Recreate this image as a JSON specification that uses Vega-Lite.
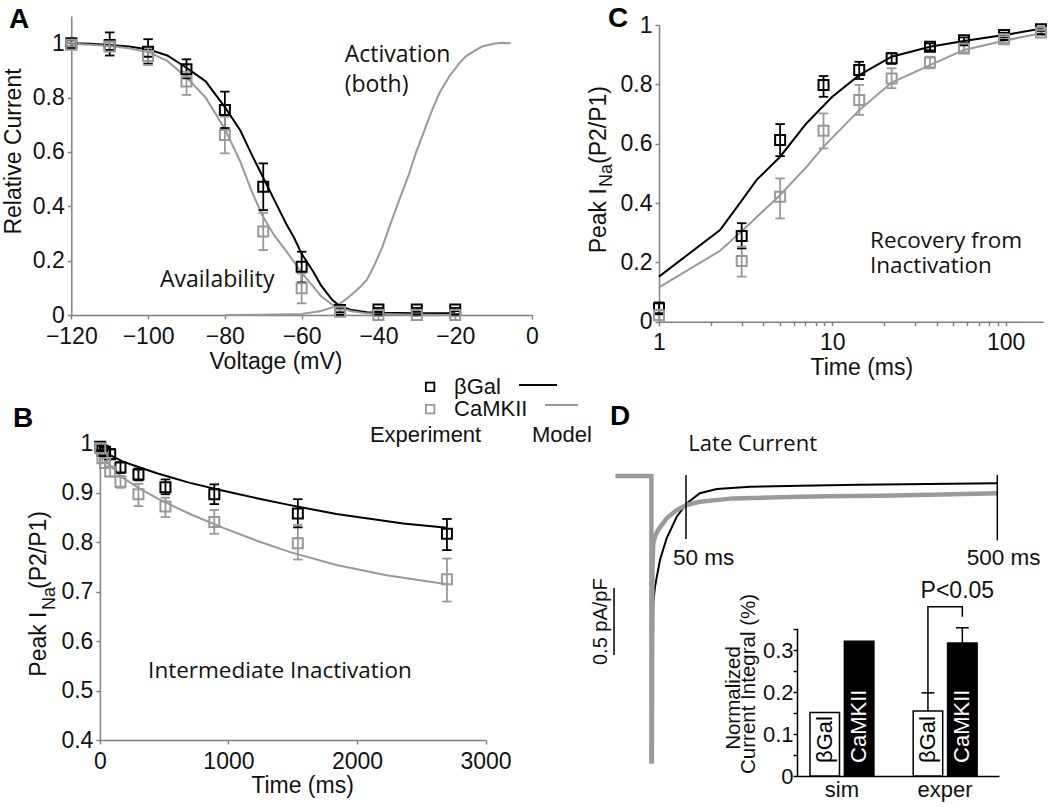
{
  "$schema": "https://vega.github.io/schema/vega-lite/v6.json",
  "width": 1050,
  "height": 807,
  "autosize": {"type": "none"},
  "padding": 0,
  "background": "#ffffff",
  "config": {
    "view": {"stroke": null},
    "font": "Liberation Sans",
    "axis": {"grid": false, "domainColor": "#808080", "domainWidth": 1.5, "tickColor": "#808080", "tickWidth": 1.5, "tickSize": 4, "labelFont": "Liberation Sans", "labelFontSize": 23, "labelColor": "#111111", "labelPadding": 4, "labelFlush": false, "labelOverlap": false, "labelBound": false, "titleFont": "Liberation Sans", "titleFontSize": 23, "titleFontWeight": "normal", "titleColor": "#111111"}
  },
  "datasets": {
    "A_fit": [
      {"V": -120, "v": 1.0, "s": "βGal", "c": "b"}, {"V": -115, "v": 0.998, "s": "βGal", "c": "b"}, {"V": -110, "v": 0.994, "s": "βGal", "c": "b"}, {"V": -105, "v": 0.988, "s": "βGal", "c": "b"}, {"V": -100, "v": 0.978, "s": "βGal", "c": "b"}, {"V": -95, "v": 0.955, "s": "βGal", "c": "b"}, {"V": -90, "v": 0.91, "s": "βGal", "c": "b"}, {"V": -85, "v": 0.86, "s": "βGal", "c": "b"}, {"V": -80, "v": 0.765, "s": "βGal", "c": "b"}, {"V": -76, "v": 0.68, "s": "βGal", "c": "b"}, {"V": -73, "v": 0.59, "s": "βGal", "c": "b"}, {"V": -70, "v": 0.505, "s": "βGal", "c": "b"}, {"V": -67, "v": 0.42, "s": "βGal", "c": "b"}, {"V": -64, "v": 0.335, "s": "βGal", "c": "b"}, {"V": -62, "v": 0.285, "s": "βGal", "c": "b"}, {"V": -60, "v": 0.225, "s": "βGal", "c": "b"}, {"V": -57, "v": 0.16, "s": "βGal", "c": "b"}, {"V": -55, "v": 0.11, "s": "βGal", "c": "b"}, {"V": -52, "v": 0.055, "s": "βGal", "c": "b"}, {"V": -50, "v": 0.033, "s": "βGal", "c": "b"}, {"V": -47, "v": 0.018, "s": "βGal", "c": "b"}, {"V": -43, "v": 0.01, "s": "βGal", "c": "b"}, {"V": -40, "v": 0.008, "s": "βGal", "c": "b"}, {"V": -30, "v": 0.006, "s": "βGal", "c": "b"}, {"V": -20, "v": 0.006, "s": "βGal", "c": "b"},
      {"V": -120, "v": 0.998, "s": "CaMKII", "c": "g"}, {"V": -115, "v": 0.995, "s": "CaMKII", "c": "g"}, {"V": -110, "v": 0.99, "s": "CaMKII", "c": "g"}, {"V": -105, "v": 0.982, "s": "CaMKII", "c": "g"}, {"V": -100, "v": 0.968, "s": "CaMKII", "c": "g"}, {"V": -95, "v": 0.935, "s": "CaMKII", "c": "g"}, {"V": -90, "v": 0.875, "s": "CaMKII", "c": "g"}, {"V": -85, "v": 0.8, "s": "CaMKII", "c": "g"}, {"V": -80, "v": 0.685, "s": "CaMKII", "c": "g"}, {"V": -76, "v": 0.565, "s": "CaMKII", "c": "g"}, {"V": -73, "v": 0.455, "s": "CaMKII", "c": "g"}, {"V": -70, "v": 0.36, "s": "CaMKII", "c": "g"}, {"V": -67, "v": 0.29, "s": "CaMKII", "c": "g"}, {"V": -64, "v": 0.235, "s": "CaMKII", "c": "g"}, {"V": -62, "v": 0.195, "s": "CaMKII", "c": "g"}, {"V": -60, "v": 0.155, "s": "CaMKII", "c": "g"}, {"V": -57, "v": 0.105, "s": "CaMKII", "c": "g"}, {"V": -55, "v": 0.07, "s": "CaMKII", "c": "g"}, {"V": -52, "v": 0.038, "s": "CaMKII", "c": "g"}, {"V": -50, "v": 0.026, "s": "CaMKII", "c": "g"}, {"V": -47, "v": 0.014, "s": "CaMKII", "c": "g"}, {"V": -43, "v": 0.006, "s": "CaMKII", "c": "g"}, {"V": -40, "v": 0.004, "s": "CaMKII", "c": "g"}, {"V": -30, "v": 0.001, "s": "CaMKII", "c": "g"}, {"V": -20, "v": 0.0, "s": "CaMKII", "c": "g"},
      {"V": -80, "v": 0.0, "s": "CaMKII", "c": "act"}, {"V": -70, "v": 0.001, "s": "CaMKII", "c": "act"}, {"V": -60, "v": 0.004, "s": "CaMKII", "c": "act"}, {"V": -55, "v": 0.015, "s": "CaMKII", "c": "act"}, {"V": -52, "v": 0.028, "s": "CaMKII", "c": "act"}, {"V": -50, "v": 0.042, "s": "CaMKII", "c": "act"}, {"V": -47.6, "v": 0.067, "s": "CaMKII", "c": "act"}, {"V": -45, "v": 0.1, "s": "CaMKII", "c": "act"}, {"V": -43, "v": 0.13, "s": "CaMKII", "c": "act"}, {"V": -41, "v": 0.185, "s": "CaMKII", "c": "act"}, {"V": -39, "v": 0.25, "s": "CaMKII", "c": "act"}, {"V": -37, "v": 0.33, "s": "CaMKII", "c": "act"}, {"V": -34.6, "v": 0.423, "s": "CaMKII", "c": "act"}, {"V": -32, "v": 0.52, "s": "CaMKII", "c": "act"}, {"V": -30.3, "v": 0.595, "s": "CaMKII", "c": "act"}, {"V": -28, "v": 0.68, "s": "CaMKII", "c": "act"}, {"V": -26, "v": 0.755, "s": "CaMKII", "c": "act"}, {"V": -24, "v": 0.82, "s": "CaMKII", "c": "act"}, {"V": -21.6, "v": 0.877, "s": "CaMKII", "c": "act"}, {"V": -19, "v": 0.925, "s": "CaMKII", "c": "act"}, {"V": -17.3, "v": 0.951, "s": "CaMKII", "c": "act"}, {"V": -15, "v": 0.972, "s": "CaMKII", "c": "act"}, {"V": -13, "v": 0.988, "s": "CaMKII", "c": "act"}, {"V": -10, "v": 0.998, "s": "CaMKII", "c": "act"}, {"V": -7.8, "v": 1.002, "s": "CaMKII", "c": "act"}, {"V": -5.6, "v": 1.0, "s": "CaMKII", "c": "act"}
    ],
    "A_pts": [
      {"V": -120, "v": 1.0, "lo": 0.988, "hi": 1.012, "s": "βGal"}, {"V": -110, "v": 0.994, "lo": 0.955, "hi": 1.04, "s": "βGal"}, {"V": -100, "v": 0.969, "lo": 0.925, "hi": 1.015, "s": "βGal"}, {"V": -90, "v": 0.904, "lo": 0.871, "hi": 0.941, "s": "βGal"}, {"V": -80, "v": 0.754, "lo": 0.688, "hi": 0.822, "s": "βGal"}, {"V": -70, "v": 0.472, "lo": 0.386, "hi": 0.558, "s": "βGal"}, {"V": -60, "v": 0.178, "lo": 0.12, "hi": 0.233, "s": "βGal"}, {"V": -50, "v": 0.018, "lo": 0.01, "hi": 0.026, "s": "βGal"}, {"V": -40, "v": 0.02, "lo": 0.014, "hi": 0.026, "s": "βGal"}, {"V": -30, "v": 0.02, "lo": 0.014, "hi": 0.026, "s": "βGal"}, {"V": -20, "v": 0.02, "lo": 0.014, "hi": 0.026, "s": "βGal"},
      {"V": -120, "v": 0.995, "lo": 0.987, "hi": 1.003, "s": "CaMKII"}, {"V": -110, "v": 0.988, "lo": 0.972, "hi": 1.004, "s": "CaMKII"}, {"V": -100, "v": 0.953, "lo": 0.92, "hi": 0.982, "s": "CaMKII"}, {"V": -90, "v": 0.859, "lo": 0.81, "hi": 0.895, "s": "CaMKII"}, {"V": -80, "v": 0.662, "lo": 0.595, "hi": 0.73, "s": "CaMKII"}, {"V": -70, "v": 0.307, "lo": 0.239, "hi": 0.376, "s": "CaMKII"}, {"V": -60, "v": 0.098, "lo": 0.043, "hi": 0.153, "s": "CaMKII"}, {"V": -50, "v": 0.012, "lo": 0.004, "hi": 0.02, "s": "CaMKII"}, {"V": -40, "v": 0.0, "lo": -0.004, "hi": 0.004, "s": "CaMKII"}, {"V": -30, "v": 0.0, "lo": -0.004, "hi": 0.004, "s": "CaMKII"}, {"V": -20, "v": 0.0, "lo": -0.004, "hi": 0.004, "s": "CaMKII"}
    ],
    "A_txt": [
      {"V": -48.8, "v": 0.932, "text": "Activation"}, {"V": -48.8, "v": 0.822, "text": "(both)"}, {"V": -96.9, "v": 0.104, "text": "Availability"}
    ],
    "A_lbl": [{"V": -136.2, "v": 1.056, "text": "A"}],
    "B_fit": [
      {"t": 0, "v": 0.998, "s": "βGal"}, {"t": 30, "v": 0.985, "s": "βGal"}, {"t": 80, "v": 0.976, "s": "βGal"}, {"t": 180, "v": 0.963, "s": "βGal"}, {"t": 300, "v": 0.952, "s": "βGal"}, {"t": 450, "v": 0.939, "s": "βGal"}, {"t": 700, "v": 0.92, "s": "βGal"}, {"t": 960, "v": 0.904, "s": "βGal"}, {"t": 1220, "v": 0.889, "s": "βGal"}, {"t": 1480, "v": 0.875, "s": "βGal"}, {"t": 1840, "v": 0.857, "s": "βGal"}, {"t": 2360, "v": 0.838, "s": "βGal"}, {"t": 2700, "v": 0.829, "s": "βGal"},
      {"t": 0, "v": 0.995, "s": "CaMKII"}, {"t": 30, "v": 0.97, "s": "CaMKII"}, {"t": 80, "v": 0.955, "s": "CaMKII"}, {"t": 180, "v": 0.93, "s": "CaMKII"}, {"t": 300, "v": 0.91, "s": "CaMKII"}, {"t": 450, "v": 0.888, "s": "CaMKII"}, {"t": 700, "v": 0.857, "s": "CaMKII"}, {"t": 960, "v": 0.829, "s": "CaMKII"}, {"t": 1220, "v": 0.803, "s": "CaMKII"}, {"t": 1480, "v": 0.78, "s": "CaMKII"}, {"t": 1840, "v": 0.754, "s": "CaMKII"}, {"t": 2230, "v": 0.733, "s": "CaMKII"}, {"t": 2700, "v": 0.715, "s": "CaMKII"}
    ],
    "B_pts": [
      {"t": 3, "v": 0.993, "lo": 0.986, "hi": 1.0, "s": "βGal"}, {"t": 20, "v": 0.985, "lo": 0.975, "hi": 0.995, "s": "βGal"}, {"t": 40, "v": 0.983, "lo": 0.973, "hi": 0.993, "s": "βGal"}, {"t": 80, "v": 0.978, "lo": 0.968, "hi": 0.988, "s": "βGal"}, {"t": 160, "v": 0.951, "lo": 0.94, "hi": 0.962, "s": "βGal"}, {"t": 300, "v": 0.937, "lo": 0.925, "hi": 0.949, "s": "βGal"}, {"t": 510, "v": 0.911, "lo": 0.897, "hi": 0.927, "s": "βGal"}, {"t": 890, "v": 0.897, "lo": 0.877, "hi": 0.917, "s": "βGal"}, {"t": 1540, "v": 0.858, "lo": 0.83, "hi": 0.887, "s": "βGal"}, {"t": 2700, "v": 0.817, "lo": 0.784, "hi": 0.847, "s": "βGal"},
      {"t": 3, "v": 0.99, "lo": 0.98, "hi": 1.0, "s": "CaMKII"}, {"t": 20, "v": 0.97, "lo": 0.96, "hi": 0.98, "s": "CaMKII"}, {"t": 40, "v": 0.96, "lo": 0.95, "hi": 0.97, "s": "CaMKII"}, {"t": 80, "v": 0.943, "lo": 0.933, "hi": 0.953, "s": "CaMKII"}, {"t": 160, "v": 0.922, "lo": 0.91, "hi": 0.934, "s": "CaMKII"}, {"t": 300, "v": 0.897, "lo": 0.873, "hi": 0.918, "s": "CaMKII"}, {"t": 510, "v": 0.872, "lo": 0.851, "hi": 0.89, "s": "CaMKII"}, {"t": 890, "v": 0.841, "lo": 0.817, "hi": 0.865, "s": "CaMKII"}, {"t": 1540, "v": 0.798, "lo": 0.765, "hi": 0.835, "s": "CaMKII"}, {"t": 2700, "v": 0.725, "lo": 0.68, "hi": 0.767, "s": "CaMKII"}
    ],
    "B_txt": [{"t": 375, "v": 0.525, "text": "Intermediate Inactivation"}],
    "B_lbl": [{"t": -676, "v": 1.033, "text": "B"}],
    "B_ytitle": [{"t": -419, "v": 0.528, "text": "Peak I"}, {"t": -419, "v": 0.7054, "text": "(P2/P1)"}],
    "B_ysub": [{"t": -349, "v": 0.663, "text": "Na"}],
    "leg_sq": [{"t": 2569, "v": 1.114, "s": "βGal"}, {"t": 2569, "v": 1.069, "s": "CaMKII"}],
    "leg_ln": [{"t1": 3261, "t2": 3557, "v": 1.118, "s": "βGal"}, {"t1": 3463, "t2": 3720, "v": 1.0775, "s": "CaMKII"}],
    "leg_txt": [{"t": 2755, "v": 1.114, "text": "βGal"}, {"t": 2755, "v": 1.069, "text": "CaMKII"}],
    "leg_hdr": [{"t": 2101, "v": 1.003, "text": "Experiment"}, {"t": 3362, "v": 1.003, "text": "Model"}],
    "C_fit": [
      {"t": 1, "v": 0.152, "s": "βGal"}, {"t": 2.25, "v": 0.309, "s": "βGal"}, {"t": 3, "v": 0.408, "s": "βGal"}, {"t": 3.66, "v": 0.478, "s": "βGal"}, {"t": 5, "v": 0.556, "s": "βGal"}, {"t": 7.1, "v": 0.669, "s": "βGal"}, {"t": 10, "v": 0.758, "s": "βGal"}, {"t": 14.3, "v": 0.831, "s": "βGal"}, {"t": 22, "v": 0.893, "s": "βGal"}, {"t": 36.6, "v": 0.927, "s": "βGal"}, {"t": 57.5, "v": 0.946, "s": "βGal"}, {"t": 98, "v": 0.966, "s": "βGal"}, {"t": 165, "v": 0.989, "s": "βGal"},
      {"t": 1, "v": 0.116, "s": "CaMKII"}, {"t": 2.25, "v": 0.239, "s": "CaMKII"}, {"t": 3, "v": 0.305, "s": "CaMKII"}, {"t": 5, "v": 0.427, "s": "CaMKII"}, {"t": 7.1, "v": 0.522, "s": "CaMKII"}, {"t": 8.9, "v": 0.59, "s": "CaMKII"}, {"t": 14.3, "v": 0.713, "s": "CaMKII"}, {"t": 22, "v": 0.806, "s": "CaMKII"}, {"t": 36.6, "v": 0.865, "s": "CaMKII"}, {"t": 57.5, "v": 0.916, "s": "CaMKII"}, {"t": 98, "v": 0.947, "s": "CaMKII"}, {"t": 165, "v": 0.974, "s": "CaMKII"}
    ],
    "C_pts": [
      {"t": 1, "v": 0.045, "lo": 0.025, "hi": 0.065, "s": "βGal"}, {"t": 3, "v": 0.289, "lo": 0.247, "hi": 0.332, "s": "βGal"}, {"t": 5, "v": 0.612, "lo": 0.558, "hi": 0.666, "s": "βGal"}, {"t": 8.9, "v": 0.798, "lo": 0.758, "hi": 0.828, "s": "βGal"}, {"t": 14.3, "v": 0.848, "lo": 0.818, "hi": 0.876, "s": "βGal"}, {"t": 22, "v": 0.888, "lo": 0.869, "hi": 0.905, "s": "βGal"}, {"t": 36.6, "v": 0.927, "lo": 0.915, "hi": 0.938, "s": "βGal"}, {"t": 57.5, "v": 0.949, "lo": 0.94, "hi": 0.958, "s": "βGal"}, {"t": 98, "v": 0.966, "lo": 0.958, "hi": 0.974, "s": "βGal"}, {"t": 160, "v": 0.986, "lo": 0.98, "hi": 0.992, "s": "βGal"},
      {"t": 1, "v": 0.022, "lo": 0.005, "hi": 0.04, "s": "CaMKII"}, {"t": 3, "v": 0.205, "lo": 0.152, "hi": 0.253, "s": "CaMKII"}, {"t": 5, "v": 0.421, "lo": 0.348, "hi": 0.483, "s": "CaMKII"}, {"t": 8.9, "v": 0.644, "lo": 0.584, "hi": 0.702, "s": "CaMKII"}, {"t": 14.3, "v": 0.747, "lo": 0.697, "hi": 0.798, "s": "CaMKII"}, {"t": 22, "v": 0.82, "lo": 0.787, "hi": 0.854, "s": "CaMKII"}, {"t": 36.6, "v": 0.874, "lo": 0.854, "hi": 0.893, "s": "CaMKII"}, {"t": 57.5, "v": 0.921, "lo": 0.908, "hi": 0.934, "s": "CaMKII"}, {"t": 98, "v": 0.952, "lo": 0.94, "hi": 0.962, "s": "CaMKII"}, {"t": 160, "v": 0.975, "lo": 0.967, "hi": 0.983, "s": "CaMKII"}
    ],
    "C_txt": [{"t": 16.5, "v": 0.2474, "text": "Recovery from"}, {"t": 16.5, "v": 0.163, "text": "Inactivation"}],
    "C_lbl": [{"t": 0.5076, "v": 0.9933, "text": "C"}],
    "C_ytitle": [{"t": 0.4944, "v": 0.2305, "text": "Peak I"}, {"t": 0.4944, "v": 0.5315, "text": "(P2/P1)"}],
    "C_ysub": [{"t": 0.534, "v": 0.454, "text": "Na"}],
    "D_black": [
      {"i": 0, "t": 0.8, "I": -2.13}, {"i": 1, "t": 2.7, "I": -0.95}, {"i": 2, "t": 5.2, "I": -0.826}, {"i": 3, "t": 12.4, "I": -0.627}, {"i": 4, "t": 22, "I": -0.465}, {"i": 5, "t": 36.6, "I": -0.304}, {"i": 6, "t": 51, "I": -0.204}, {"i": 7, "t": 70, "I": -0.129}, {"i": 8, "t": 94.5, "I": -0.097}, {"i": 9, "t": 142.7, "I": -0.08}, {"i": 10, "t": 215, "I": -0.072}, {"i": 11, "t": 300, "I": -0.066}, {"i": 12, "t": 400, "I": -0.06}, {"i": 13, "t": 500, "I": -0.054}
    ],
    "D_gray": [
      {"i": 0, "t": -52, "I": 0}, {"i": 1, "t": 0, "I": 0}, {"i": 2, "t": 0, "I": -2.13}, {"i": 3, "t": 0.6, "I": -2.13}, {"i": 4, "t": 1.5, "I": -0.7}, {"i": 5, "t": 2.7, "I": -0.5}, {"i": 6, "t": 6, "I": -0.44}, {"i": 7, "t": 10, "I": -0.4}, {"i": 8, "t": 22, "I": -0.316}, {"i": 9, "t": 36.6, "I": -0.254}, {"i": 10, "t": 51, "I": -0.216}, {"i": 11, "t": 70, "I": -0.192}, {"i": 12, "t": 118, "I": -0.167}, {"i": 13, "t": 186, "I": -0.159}, {"i": 14, "t": 250, "I": -0.152}, {"i": 15, "t": 331, "I": -0.147}, {"i": 16, "t": 420, "I": -0.138}, {"i": 17, "t": 500, "I": -0.129}
    ],
    "D_marks": [{"t": 50, "I1": 0.007, "I2": -0.47}, {"t": 500, "I1": 0.0075, "I2": -0.48}, {"t": -54, "I1": -0.836, "I2": -1.336}],
    "D_tl": [{"t": 31.3, "I": -0.664, "text": "50 ms"}],
    "D_tr": [{"t": 562.4, "I": -0.664, "text": "500 ms"}],
    "D_title": [{"t": 53.4, "I": 0.189, "text": "Late Current"}],
    "D_lbl": [{"t": -59.9, "I": 0.381, "text": "D"}],
    "D_scale": [{"t": -64.3, "I": -1.087, "text": "0.5 pA/pF"}],
    "D_ytitle": [{"t": 128.2, "I": -1.657, "text": "Normalized"}, {"t": 149.9, "I": -1.552, "text": "Current Integral (%)"}],
    "bars": [{"k": "sB", "c": "βGal", "v": 0.151}, {"k": "sC", "c": "CaMKII", "v": 0.321}, {"k": "eB", "c": "βGal", "v": 0.155}, {"k": "eC", "c": "CaMKII", "v": 0.317}],
    "bar_err": [{"k": "eB", "lo": 0.155, "hi": 0.198}, {"k": "eC", "lo": 0.317, "hi": 0.353}],
    "bracket": [{"i": 0, "k": "eB", "v": 0.198}, {"i": 1, "k": "eB", "v": 0.403}, {"i": 2, "k": "eC", "v": 0.403}, {"i": 3, "k": "eC", "v": 0.379}],
    "bar_p": [{"k": "eC", "v": 0.423, "text": "P<0.05"}],
    "bar_tb": [{"k": "sB", "v": 0.031, "text": "βGal"}, {"k": "eB", "v": 0.031, "text": "βGal"}],
    "bar_tc": [{"k": "sC", "v": 0.031, "text": "CaMKII"}, {"k": "eC", "v": 0.031, "text": "CaMKII"}]
  },
  "layer": [
    {
      "layer": [
        {"data": {"name": "A_fit"}, "mark": {"type": "line", "strokeWidth": 2},
         "encoding": {
           "x": {"field": "V", "type": "quantitative", "scale": {"domain": [-120, 0], "range": [71.3, 532], "nice": false, "zero": false},
                 "axis": {"orient": "bottom", "offset": -492, "values": [-120, -100, -80, -60, -40, -20, 0], "format": "d", "labelPadding": 6, "title": "Voltage (mV)", "titleX": 275.5, "titleY": 46, "titleBaseline": "middle"}},
           "y": {"field": "v", "type": "quantitative", "scale": {"domain": [0, 1.1], "range": [315, 16.1], "nice": false, "zero": false},
                 "axis": {"orient": "left", "offset": -71.3, "values": [0, 0.2, 0.4, 0.6, 0.8, 1], "format": ".1~f", "labelPadding": 3, "title": "Relative Current", "titleX": -57.5, "titleY": 151, "titleBaseline": "middle", "titleAngle": 270}},
           "color": {"field": "s", "type": "nominal", "scale": {"domain": ["βGal", "CaMKII"], "range": ["#000000", "#999999"]}, "legend": null},
           "detail": {"field": "c"}
         }},
        {"data": {"name": "A_pts"}, "mark": {"type": "rule", "strokeWidth": 1.8},
         "encoding": {"x": {"field": "V", "type": "quantitative"}, "y": {"field": "lo", "type": "quantitative"}, "y2": {"field": "hi"},
           "color": {"field": "s", "type": "nominal", "legend": null}}},
        {"data": {"name": "A_pts"}, "mark": {"type": "point", "shape": "M-1,0L1,0", "filled": false, "size": 90, "strokeWidth": 1.8, "opacity": 1},
         "encoding": {"x": {"field": "V", "type": "quantitative"}, "y": {"field": "lo", "type": "quantitative"},
           "color": {"field": "s", "type": "nominal", "legend": null}}},
        {"data": {"name": "A_pts"}, "mark": {"type": "point", "shape": "M-1,0L1,0", "filled": false, "size": 90, "strokeWidth": 1.8, "opacity": 1},
         "encoding": {"x": {"field": "V", "type": "quantitative"}, "y": {"field": "hi", "type": "quantitative"},
           "color": {"field": "s", "type": "nominal", "legend": null}}},
        {"data": {"name": "A_pts"}, "mark": {"type": "point", "shape": "square", "filled": false, "size": 100, "strokeWidth": 2, "opacity": 1},
         "encoding": {"x": {"field": "V", "type": "quantitative"}, "y": {"field": "v", "type": "quantitative"},
           "color": {"field": "s", "type": "nominal", "legend": null}}},
        {"data": {"name": "A_txt"}, "mark": {"type": "text", "font": "Open Sans", "fontSize": 23, "align": "left", "baseline": "alphabetic", "color": "#111111"},
         "encoding": {"x": {"field": "V", "type": "quantitative"}, "y": {"field": "v", "type": "quantitative"}, "text": {"field": "text"}}},
        {"data": {"name": "A_lbl"}, "mark": {"type": "text", "font": "Liberation Sans", "fontWeight": "bold", "fontSize": 28, "align": "left", "baseline": "alphabetic", "color": "#000000"},
         "encoding": {"x": {"field": "V", "type": "quantitative"}, "y": {"field": "v", "type": "quantitative"}, "text": {"field": "text"}}}
      ]
    },
    {
      "layer": [
        {"data": {"name": "B_fit"}, "mark": {"type": "line", "strokeWidth": 2},
         "encoding": {
           "x": {"field": "t", "type": "quantitative", "scale": {"domain": [0, 3000], "range": [99.9, 485.5], "nice": false, "zero": false},
                 "axis": {"orient": "bottom", "offset": -67, "values": [0, 1000, 2000, 3000], "format": "d", "labelPadding": 6, "title": "Time (ms)", "titleX": 302, "titleY": 45, "titleBaseline": "middle"}},
           "y": {"field": "v", "type": "quantitative", "scale": {"domain": [0.4, 1], "range": [740, 443.3], "nice": false, "zero": false},
                 "axis": {"orient": "left", "offset": -99.9, "values": [0.4, 0.5, 0.6, 0.7, 0.8, 0.9, 1], "format": ".1~f", "labelPadding": 3, "title": null}},
           "color": {"field": "s", "type": "nominal", "legend": null}
         }},
        {"data": {"name": "B_pts"}, "mark": {"type": "rule", "strokeWidth": 1.8},
         "encoding": {"x": {"field": "t", "type": "quantitative"}, "y": {"field": "lo", "type": "quantitative"}, "y2": {"field": "hi"},
           "color": {"field": "s", "type": "nominal", "legend": null}}},
        {"data": {"name": "B_pts"}, "mark": {"type": "point", "shape": "M-1,0L1,0", "filled": false, "size": 90, "strokeWidth": 1.8, "opacity": 1},
         "encoding": {"x": {"field": "t", "type": "quantitative"}, "y": {"field": "lo", "type": "quantitative"},
           "color": {"field": "s", "type": "nominal", "legend": null}}},
        {"data": {"name": "B_pts"}, "mark": {"type": "point", "shape": "M-1,0L1,0", "filled": false, "size": 90, "strokeWidth": 1.8, "opacity": 1},
         "encoding": {"x": {"field": "t", "type": "quantitative"}, "y": {"field": "hi", "type": "quantitative"},
           "color": {"field": "s", "type": "nominal", "legend": null}}},
        {"data": {"name": "B_pts"}, "mark": {"type": "point", "shape": "square", "filled": false, "size": 100, "strokeWidth": 2, "opacity": 1},
         "encoding": {"x": {"field": "t", "type": "quantitative"}, "y": {"field": "v", "type": "quantitative"},
           "color": {"field": "s", "type": "nominal", "legend": null}}},
        {"data": {"name": "B_txt"}, "mark": {"type": "text", "font": "Open Sans", "fontSize": 22.5, "align": "left", "baseline": "alphabetic", "color": "#111111"},
         "encoding": {"x": {"field": "t", "type": "quantitative"}, "y": {"field": "v", "type": "quantitative"}, "text": {"field": "text"}}},
        {"data": {"name": "B_lbl"}, "mark": {"type": "text", "font": "Liberation Sans", "fontWeight": "bold", "fontSize": 28, "align": "left", "baseline": "alphabetic", "color": "#000000"},
         "encoding": {"x": {"field": "t", "type": "quantitative"}, "y": {"field": "v", "type": "quantitative"}, "text": {"field": "text"}}},
        {"data": {"name": "B_ytitle"}, "mark": {"type": "text", "font": "Liberation Sans", "fontSize": 23, "align": "left", "baseline": "alphabetic", "angle": 270, "color": "#111111"},
         "encoding": {"x": {"field": "t", "type": "quantitative"}, "y": {"field": "v", "type": "quantitative"}, "text": {"field": "text"}}},
        {"data": {"name": "B_ysub"}, "mark": {"type": "text", "font": "Liberation Sans", "fontSize": 18, "align": "left", "baseline": "alphabetic", "angle": 270, "color": "#111111"},
         "encoding": {"x": {"field": "t", "type": "quantitative"}, "y": {"field": "v", "type": "quantitative"}, "text": {"field": "text"}}},
        {"data": {"name": "leg_ln"}, "mark": {"type": "rule", "strokeWidth": 2},
         "encoding": {"x": {"field": "t1", "type": "quantitative"}, "x2": {"field": "t2"}, "y": {"field": "v", "type": "quantitative"},
           "color": {"field": "s", "type": "nominal", "legend": null}}},
        {"data": {"name": "leg_sq"}, "mark": {"type": "point", "shape": "square", "filled": false, "size": 72, "strokeWidth": 1.8, "opacity": 1},
         "encoding": {"x": {"field": "t", "type": "quantitative"}, "y": {"field": "v", "type": "quantitative"},
           "color": {"field": "s", "type": "nominal", "legend": null}}},
        {"data": {"name": "leg_txt"}, "mark": {"type": "text", "font": "Liberation Sans", "fontSize": 22, "align": "left", "baseline": "middle", "color": "#111111"},
         "encoding": {"x": {"field": "t", "type": "quantitative"}, "y": {"field": "v", "type": "quantitative"}, "text": {"field": "text"}}},
        {"data": {"name": "leg_hdr"}, "mark": {"type": "text", "font": "Liberation Sans", "fontSize": 22, "align": "left", "baseline": "alphabetic", "color": "#111111"},
         "encoding": {"x": {"field": "t", "type": "quantitative"}, "y": {"field": "v", "type": "quantitative"}, "text": {"field": "text"}}}
      ]
    },
    {
      "layer": [
        {"data": {"name": "C_fit"}, "mark": {"type": "line", "strokeWidth": 2},
         "encoding": {
           "x": {"field": "t", "type": "quantitative", "scale": {"type": "log", "domain": [1, 165], "range": [659, 1043.3], "nice": false},
                 "axis": {"orient": "bottom", "offset": -485.3, "values": [1, 2, 3, 4, 5, 6, 7, 8, 9, 10, 20, 30, 40, 50, 60, 70, 80, 90, 100], "labelExpr": "datum.value == 1 || datum.value == 10 || datum.value == 100 ? format(datum.value, 'd') : ''", "labelPadding": 6, "title": "Time (ms)", "titleX": 861.3, "titleY": 46, "titleBaseline": "middle"}},
           "y": {"field": "v", "type": "quantitative", "scale": {"domain": [0, 1], "range": [321.7, 25], "nice": false, "zero": false},
                 "axis": {"orient": "left", "offset": -659, "values": [0, 0.2, 0.4, 0.6, 0.8, 1], "format": ".1~f", "labelPadding": 3, "title": null}},
           "color": {"field": "s", "type": "nominal", "legend": null}
         }},
        {"data": {"name": "C_pts"}, "mark": {"type": "rule", "strokeWidth": 1.8},
         "encoding": {"x": {"field": "t", "type": "quantitative", "scale": {"type": "log"}}, "y": {"field": "lo", "type": "quantitative"}, "y2": {"field": "hi"},
           "color": {"field": "s", "type": "nominal", "legend": null}}},
        {"data": {"name": "C_pts"}, "mark": {"type": "point", "shape": "M-1,0L1,0", "filled": false, "size": 90, "strokeWidth": 1.8, "opacity": 1},
         "encoding": {"x": {"field": "t", "type": "quantitative", "scale": {"type": "log"}}, "y": {"field": "lo", "type": "quantitative"},
           "color": {"field": "s", "type": "nominal", "legend": null}}},
        {"data": {"name": "C_pts"}, "mark": {"type": "point", "shape": "M-1,0L1,0", "filled": false, "size": 90, "strokeWidth": 1.8, "opacity": 1},
         "encoding": {"x": {"field": "t", "type": "quantitative", "scale": {"type": "log"}}, "y": {"field": "hi", "type": "quantitative"},
           "color": {"field": "s", "type": "nominal", "legend": null}}},
        {"data": {"name": "C_pts"}, "mark": {"type": "point", "shape": "square", "filled": false, "size": 100, "strokeWidth": 2, "opacity": 1},
         "encoding": {"x": {"field": "t", "type": "quantitative", "scale": {"type": "log"}}, "y": {"field": "v", "type": "quantitative"},
           "color": {"field": "s", "type": "nominal", "legend": null}}},
        {"data": {"name": "C_txt"}, "mark": {"type": "text", "font": "Open Sans", "fontSize": 22.5, "align": "left", "baseline": "alphabetic", "color": "#111111"},
         "encoding": {"x": {"field": "t", "type": "quantitative", "scale": {"type": "log"}}, "y": {"field": "v", "type": "quantitative"}, "text": {"field": "text"}}},
        {"data": {"name": "C_lbl"}, "mark": {"type": "text", "font": "Liberation Sans", "fontWeight": "bold", "fontSize": 28, "align": "left", "baseline": "alphabetic", "color": "#000000"},
         "encoding": {"x": {"field": "t", "type": "quantitative", "scale": {"type": "log"}}, "y": {"field": "v", "type": "quantitative"}, "text": {"field": "text"}}},
        {"data": {"name": "C_ytitle"}, "mark": {"type": "text", "font": "Liberation Sans", "fontSize": 23, "align": "left", "baseline": "alphabetic", "angle": 270, "color": "#111111"},
         "encoding": {"x": {"field": "t", "type": "quantitative", "scale": {"type": "log"}}, "y": {"field": "v", "type": "quantitative"}, "text": {"field": "text"}}},
        {"data": {"name": "C_ysub"}, "mark": {"type": "text", "font": "Liberation Sans", "fontSize": 18, "align": "left", "baseline": "alphabetic", "angle": 270, "color": "#111111"},
         "encoding": {"x": {"field": "t", "type": "quantitative", "scale": {"type": "log"}}, "y": {"field": "v", "type": "quantitative"}, "text": {"field": "text"}}}
      ]
    },
    {
      "layer": [
        {"data": {"name": "D_black"}, "mark": {"type": "line", "color": "#000000", "strokeWidth": 2},
         "encoding": {"x": {"field": "t", "type": "quantitative", "scale": {"domain": [0, 500], "range": [651.4, 997.3], "nice": false, "zero": false}, "axis": null},
           "y": {"field": "I", "type": "quantitative", "scale": {"domain": [0, 1], "range": [476, 342], "nice": false, "zero": false}, "axis": null},
           "order": {"field": "i", "type": "quantitative"}}},
        {"data": {"name": "D_gray"}, "mark": {"type": "line", "color": "#9a9a9a", "strokeWidth": 4.5, "strokeJoin": "miter"},
         "encoding": {"x": {"field": "t", "type": "quantitative", "axis": null}, "y": {"field": "I", "type": "quantitative", "axis": null},
           "order": {"field": "i", "type": "quantitative"}}},
        {"data": {"name": "D_marks"}, "mark": {"type": "rule", "color": "#000000", "strokeWidth": 1.5},
         "encoding": {"x": {"field": "t", "type": "quantitative", "axis": null}, "y": {"field": "I1", "type": "quantitative", "axis": null}, "y2": {"field": "I2"}}},
        {"data": {"name": "D_tl"}, "mark": {"type": "text", "font": "Liberation Sans", "fontSize": 22.5, "align": "left", "baseline": "alphabetic", "color": "#111111"},
         "encoding": {"x": {"field": "t", "type": "quantitative", "axis": null}, "y": {"field": "I", "type": "quantitative", "axis": null}, "text": {"field": "text"}}},
        {"data": {"name": "D_tr"}, "mark": {"type": "text", "font": "Liberation Sans", "fontSize": 22.5, "align": "right", "baseline": "alphabetic", "color": "#111111"},
         "encoding": {"x": {"field": "t", "type": "quantitative", "axis": null}, "y": {"field": "I", "type": "quantitative", "axis": null}, "text": {"field": "text"}}},
        {"data": {"name": "D_title"}, "mark": {"type": "text", "font": "Open Sans", "fontSize": 22, "align": "left", "baseline": "alphabetic", "color": "#111111"},
         "encoding": {"x": {"field": "t", "type": "quantitative", "axis": null}, "y": {"field": "I", "type": "quantitative", "axis": null}, "text": {"field": "text"}}},
        {"data": {"name": "D_lbl"}, "mark": {"type": "text", "font": "Liberation Sans", "fontWeight": "bold", "fontSize": 28, "align": "left", "baseline": "alphabetic", "color": "#000000"},
         "encoding": {"x": {"field": "t", "type": "quantitative", "axis": null}, "y": {"field": "I", "type": "quantitative", "axis": null}, "text": {"field": "text"}}},
        {"data": {"name": "D_scale"}, "mark": {"type": "text", "font": "Liberation Sans", "fontSize": 20, "align": "center", "baseline": "alphabetic", "angle": 270, "color": "#111111"},
         "encoding": {"x": {"field": "t", "type": "quantitative", "axis": null}, "y": {"field": "I", "type": "quantitative", "axis": null}, "text": {"field": "text"}}},
        {"data": {"name": "D_ytitle"}, "mark": {"type": "text", "font": "Liberation Sans", "fontSize": 20.5, "align": "center", "baseline": "alphabetic", "angle": 270, "color": "#111111"},
         "encoding": {"x": {"field": "t", "type": "quantitative", "axis": null}, "y": {"field": "I", "type": "quantitative", "axis": null}, "text": {"field": "text"}}}
      ]
    },
    {
      "layer": [
        {"data": {"name": "bars"}, "mark": {"type": "bar", "stroke": "#000000", "strokeWidth": 1.5},
         "encoding": {
           "x": {"field": "k", "type": "nominal", "scale": {"type": "band", "domain": ["sB", "sC", "g", "eB", "eC"], "range": [797, 999], "paddingInner": 0.142, "paddingOuter": 0.507, "align": 0.372},
                 "axis": {"orient": "bottom", "offset": -31, "domainColor": "#000000", "ticks": false, "labelExpr": "datum.value == 'sB' ? 'sim' : (datum.value == 'eB' ? 'exper' : '')", "labelOffset": 17.2, "labelPadding": 3, "labelFontSize": 22, "labelAngle": 0, "title": null}},
           "y": {"field": "v", "type": "quantitative", "scale": {"domain": [0, 0.352], "range": [776, 628.2], "nice": false, "zero": false},
                 "axis": {"orient": "left", "offset": -797, "domainColor": "#000000", "tickColor": "#000000", "values": [0, 0.05, 0.1, 0.15, 0.2, 0.25, 0.3, 0.35], "format": ".2~f", "labelExpr": "round(datum.value * 20) % 2 == 0 ? datum.label : ''", "labelPadding": 0, "labelFontSize": 22, "title": null}},
           "fill": {"field": "c", "type": "nominal", "scale": {"domain": ["βGal", "CaMKII"], "range": ["#ffffff", "#000000"]}, "legend": null}
         }},
        {"data": {"name": "bar_err"}, "mark": {"type": "rule", "color": "#000000", "strokeWidth": 1.5},
         "encoding": {"x": {"field": "k", "type": "nominal"}, "y": {"field": "lo", "type": "quantitative"}, "y2": {"field": "hi"}}},
        {"data": {"name": "bar_err"}, "mark": {"type": "point", "shape": "M-1,0L1,0", "filled": false, "size": 169, "strokeWidth": 1.5, "color": "#000000", "opacity": 1},
         "encoding": {"x": {"field": "k", "type": "nominal"}, "y": {"field": "hi", "type": "quantitative"}}},
        {"data": {"name": "bracket"}, "mark": {"type": "line", "color": "#000000", "strokeWidth": 1.5},
         "encoding": {"x": {"field": "k", "type": "nominal"}, "y": {"field": "v", "type": "quantitative"}, "order": {"field": "i", "type": "quantitative"}}},
        {"data": {"name": "bar_p"}, "mark": {"type": "text", "font": "Liberation Sans", "fontSize": 23, "align": "center", "baseline": "alphabetic", "dx": -5, "color": "#111111"},
         "encoding": {"x": {"field": "k", "type": "nominal"}, "y": {"field": "v", "type": "quantitative"}, "text": {"field": "text"}}},
        {"data": {"name": "bar_tb"}, "mark": {"type": "text", "font": "Liberation Sans", "fontSize": 22, "align": "left", "baseline": "middle", "angle": 270, "color": "#000000"},
         "encoding": {"x": {"field": "k", "type": "nominal"}, "y": {"field": "v", "type": "quantitative"}, "text": {"field": "text"}}},
        {"data": {"name": "bar_tc"}, "mark": {"type": "text", "font": "Liberation Sans", "fontSize": 22, "align": "left", "baseline": "middle", "angle": 270, "color": "#ffffff"},
         "encoding": {"x": {"field": "k", "type": "nominal"}, "y": {"field": "v", "type": "quantitative"}, "text": {"field": "text"}}}
      ]
    }
  ],
  "resolve": {"scale": {"x": "independent", "y": "independent"}, "axis": {"x": "independent", "y": "independent"}}
}
